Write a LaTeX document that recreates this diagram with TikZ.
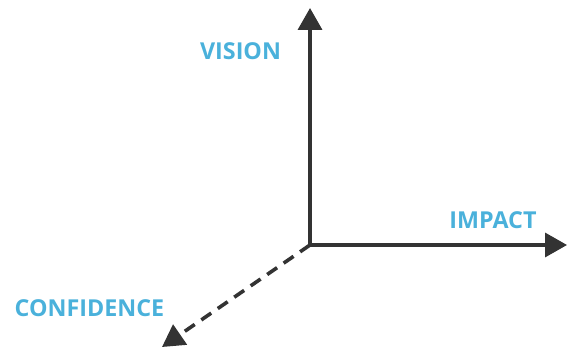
\documentclass[tikz,border=0pt]{standalone}
\usepackage{fontspec}
\setmainfont{Open Sans}
\usetikzlibrary{arrows.meta}
\definecolor{axiscol}{RGB}{51,51,51}
\definecolor{labelcol}{RGB}{74,177,219}
\begin{document}
\begin{tikzpicture}[x=1pt,y=-1pt,
  axis/.style={draw=axiscol,line width=3.6pt,-{Triangle[length=22pt,width=24pt]}},
  lbl/.style={text=labelcol,font=\fontsize{23.3}{27}\selectfont\bfseries,inner sep=0pt}]
\useasboundingbox (0,0) rectangle (567,347);
\coordinate (o) at (310,245);
\coordinate (top) at (310,8);
\coordinate (right) at (567,245);
\coordinate (diag) at (162,347);
\draw[axis] (o) -- (top);
\draw[axis] (o) -- (right);
\draw[axis,dash pattern=on 12pt off 8pt] (o) -- (diag);
\fill[axiscol] (o) ++(-1.8,-1.8) rectangle ++(3.6,3.6);
\node[lbl] (vision) at (240.5,51) {VISION};
\node[lbl] (impact) at (493,220) {IMPACT};
\node[lbl] (conf) at (89.5,308) {CONFIDENCE};
\end{tikzpicture}
\end{document}
